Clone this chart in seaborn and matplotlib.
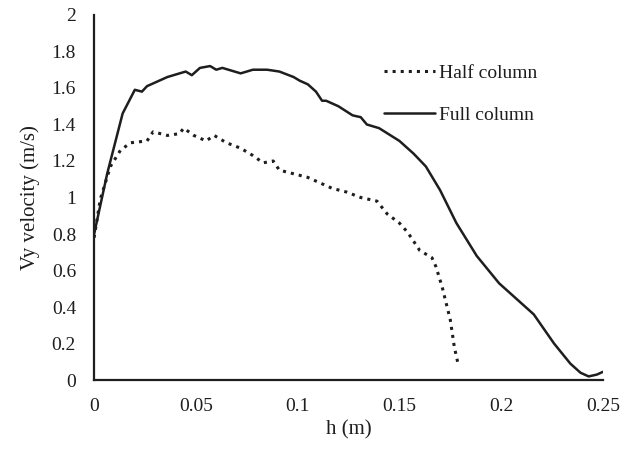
import pandas as pd
import matplotlib
matplotlib.use('Agg')
import matplotlib.pyplot as plt
from matplotlib.ticker import FuncFormatter, MultipleLocator
import seaborn as sns

# Half column (dotted)
half_h = [0, 0.003, 0.008, 0.013, 0.018, 0.026, 0.029, 0.036, 0.042, 0.044, 0.049,
          0.055, 0.059, 0.065, 0.072, 0.078, 0.083, 0.088, 0.091, 0.098, 0.105,
          0.111, 0.117, 0.124, 0.131, 0.139, 0.144, 0.150, 0.154, 0.160, 0.166,
          0.168, 0.171, 0.175, 0.177, 0.179]
half_v = [0.78, 0.99, 1.17, 1.26, 1.30, 1.31, 1.36, 1.34, 1.35, 1.38, 1.34,
          1.31, 1.34, 1.30, 1.27, 1.23, 1.19, 1.20, 1.15, 1.13, 1.11,
          1.08, 1.05, 1.03, 1.00, 0.98, 0.91, 0.86, 0.81, 0.71, 0.67,
          0.62, 0.51, 0.33, 0.18, 0.08]

# Full column (solid)
full_h = [0, 0.0064, 0.014, 0.020, 0.0235, 0.026, 0.036, 0.045, 0.048, 0.052, 0.057,
          0.060, 0.063, 0.072, 0.078, 0.085, 0.091, 0.098, 0.101, 0.105, 0.109,
          0.112, 0.114, 0.120, 0.127, 0.131, 0.134, 0.140, 0.150, 0.157, 0.163,
          0.170, 0.178, 0.188, 0.199, 0.208, 0.216, 0.226, 0.234, 0.239, 0.243,
          0.247, 0.250]
full_v = [0.80, 1.13, 1.46, 1.59, 1.58, 1.61, 1.66, 1.69, 1.67, 1.71, 1.72,
          1.70, 1.71, 1.68, 1.70, 1.70, 1.69, 1.66, 1.64, 1.62, 1.58,
          1.53, 1.53, 1.50, 1.45, 1.44, 1.40, 1.38, 1.31, 1.24, 1.17,
          1.04, 0.86, 0.68, 0.53, 0.44, 0.36, 0.20, 0.09, 0.04, 0.02,
          0.03, 0.045]

sns.set_style('white')
plt.rcParams['font.family'] = ['Liberation Serif', 'DejaVu Serif']

ink = '#1e1e1e'
fig = plt.figure(figsize=(6.36, 4.53), dpi=100)
ax = fig.add_axes([0.148, 0.161, 0.8, 0.806])

df_half = pd.DataFrame({'h': half_h, 'v': half_v})
df_full = pd.DataFrame({'h': full_h, 'v': full_v})
sns.lineplot(data=df_half, x='h', y='v', sort=False, ax=ax, color=ink,
             linestyle=':', linewidth=2.2, label='Half column')
sns.lineplot(data=df_full, x='h', y='v', sort=False, ax=ax, color=ink,
             linewidth=1.8, label='Full column')

ax.set_xlim(0, 0.25)
ax.set_ylim(0, 2)
ax.xaxis.set_major_locator(MultipleLocator(0.05))
ax.yaxis.set_major_locator(MultipleLocator(0.2))
fmt = FuncFormatter(lambda v, p: f'{round(v, 3):g}')
ax.xaxis.set_major_formatter(fmt)
ax.yaxis.set_major_formatter(fmt)

for side in ['top', 'right']:
    ax.spines[side].set_visible(False)
for side in ['left', 'bottom']:
    ax.spines[side].set_color(ink)
    ax.spines[side].set_linewidth(1.6)
ax.tick_params(direction='in', length=6, width=1.6, colors=ink,
               labelsize=14, pad=13)

ax.set_xlabel('h (m)', fontsize=15, color=ink, labelpad=4)
ax.set_ylabel('Vy velocity (m/s)', fontsize=15, color=ink, labelpad=8)

leg = ax.legend(loc='upper left', bbox_to_anchor=(0.555, 0.887), frameon=False,
                fontsize=14, handlelength=2.6, handletextpad=0.2,
                labelspacing=1.25, borderaxespad=0)
for t in leg.get_texts():
    t.set_color(ink)

fig.savefig('out.png', dpi=100)
